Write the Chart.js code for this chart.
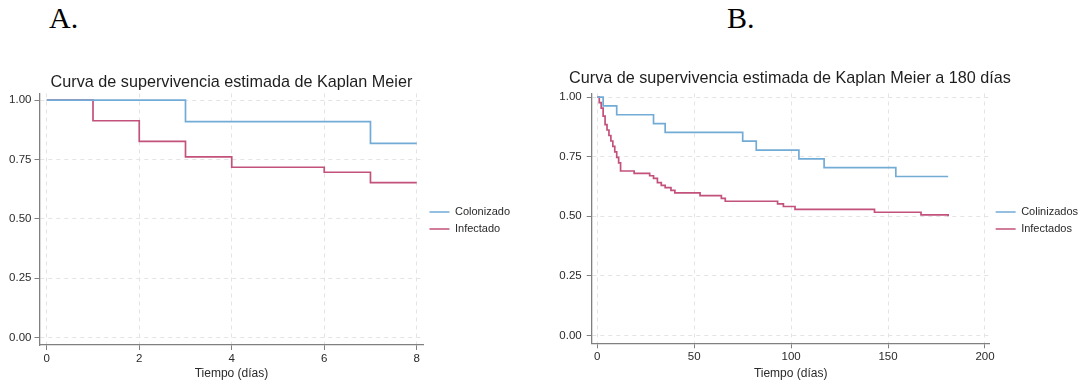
<!DOCTYPE html>
<html>
<head>
<meta charset="utf-8">
<script src="https://cdn.jsdelivr.net/npm/chart.js"></script>
<style>
    body { margin: 0; background: #fff; width: 1088px; height: 381px; position: relative; overflow: hidden; }
    .panel-label { position: absolute; top: 1px; font-family: "Liberation Serif", "Times New Roman", serif; font-size: 30px; color: #000; }
    .box { position: absolute; top: 60px; height: 321px; }
</style>
</head>
<body>
<div class="panel-label" style="left:49px">A.</div>
<div class="panel-label" style="left:727px">B.</div>
<div class="box" style="left:0;width:540px"><canvas id="chartA"></canvas></div>
<!-- B canvas starts further left so that its full-width title centres on the plot area -->
<div class="box" style="left:492px;width:596px"><canvas id="chartB"></canvas></div>

<script>
// --- A: Kaplan Meier, 8 days ---
const daysColA = [0, 3, 7, 8];
const survColA = [1, 0.909, 0.818, 0.818];
const daysInfA = [0, 1, 2, 3, 4, 6, 7, 8];
const survInfA = [1, 0.913, 0.826, 0.761, 0.717, 0.696, 0.652, 0.652];
const xTicksA = [0, 2, 4, 6, 8];

// --- B: Kaplan Meier, 180 days ---
const daysColB = [0, 3, 10, 29, 35, 75, 82, 104, 117, 154, 181];
const survColB = [1, 0.963, 0.926, 0.889, 0.852, 0.815, 0.778, 0.741, 0.704, 0.667, 0.667];
const daysInfB = [0, 1, 2, 3, 4, 5, 6, 7, 8, 9, 10, 11, 12, 19, 27, 29, 31, 33, 35, 38, 40, 53, 64, 66, 93, 96, 102, 143, 167, 181];
const survInfB = [1, 0.977, 0.954, 0.920, 0.885, 0.862, 0.839, 0.816, 0.793, 0.770, 0.747, 0.724, 0.690, 0.680, 0.670, 0.659, 0.641, 0.630, 0.620, 0.609, 0.598, 0.587, 0.575, 0.563, 0.552, 0.541, 0.529, 0.517, 0.506, 0.500];
const xTicksB = [0, 50, 100, 150, 200];

const yTicks = [0, 0.25, 0.5, 0.75, 1];

const BLUE = '#72abd6';
const RED = '#c2517b';
const AXIS = '#808080';
const GRID = '#e4e4e4';
const FONT = '"Liberation Sans", Arial, sans-serif';

Chart.defaults.font.family = FONT;
Chart.defaults.color = '#2a2a2a';

const toPoints = (xs, ys) => xs.map((x, i) => ({x: x, y: ys[i]}));

function kmChart(id, cfg) {
    const ctx = document.getElementById(id);
    return new Chart(ctx, {
        type: 'line',
        data: {
            datasets: [
                {label: cfg.labels[0], data: toPoints(cfg.col[0], cfg.col[1]), borderColor: BLUE, backgroundColor: BLUE},
                {label: cfg.labels[1], data: toPoints(cfg.inf[0], cfg.inf[1]), borderColor: RED, backgroundColor: RED}
            ].map(d => Object.assign(d, {stepped: true, borderWidth: 1.7, pointRadius: 0, fill: false}))
        },
        options: {
            animation: false,
            responsive: true,
            maintainAspectRatio: false,
            devicePixelRatio: 1,
            layout: {padding: {left: 0, right: cfg.padRight, top: 0, bottom: 0}},
            plugins: {
                tooltip: {enabled: false},
                title: {
                    display: true,
                    fullSize: cfg.titleFull,
                    text: cfg.title,
                    color: '#1e1e1e',
                    font: {size: cfg.titleSize, weight: 'normal'},
                    padding: {top: cfg.titleTop, bottom: cfg.titleBottom}
                },
                legend: {
                    position: 'right',
                    labels: {
                        boxWidth: 20,
                        boxHeight: 0,
                        padding: 6,
                        font: {size: 11},
                        color: '#2a2a2a'
                    }
                }
            },
            scales: {
                x: {
                    type: 'linear',
                    min: cfg.xMin,
                    max: cfg.xMax,
                    afterBuildTicks: s => { s.ticks = cfg.xTicks.map(v => ({value: v})); },
                    afterFit: s => { s.height = cfg.xHeight; },
                    ticks: {font: {size: 11.5}, padding: 2, maxRotation: 0},
                    grid: {color: GRID, tickColor: AXIS, tickLength: 5, tickWidth: 1},
                    border: {color: AXIS, width: 1.3, dash: [4, 4]},
                    title: {display: true, text: 'Tiempo (días)', font: {size: 12}, padding: {top: 0, bottom: 0}}
                },
                y: {
                    type: 'linear',
                    min: cfg.yMin,
                    max: cfg.yMax,
                    afterBuildTicks: s => { s.ticks = yTicks.map(v => ({value: v})); },
                    afterFit: s => { s.width = cfg.yWidth; },
                    ticks: {font: {size: 11.5}, padding: cfg.yPad, callback: v => v.toFixed(2)},
                    grid: {color: GRID, tickColor: AXIS, tickLength: 5, tickWidth: 1},
                    border: {color: AXIS, width: 1.3, dash: [4, 4]}
                }
            }
        }
    });
}

kmChart('chartA', {
    title: 'Curva de supervivencia estimada de Kaplan Meier',
    labels: ['Colonizado', 'Infectado'],
    col: [daysColA, survColA],
    inf: [daysInfA, survInfA],
    xTicks: xTicksA,
    xMin: -0.157, xMax: 8.146,
    yMin: -0.032, yMax: 1.028,
    yWidth: 39.5, xHeight: 36, yPad: 3,
    titleFull: false, titleSize: 16.2, titleTop: 13, titleBottom: 1,
    padRight: 20
});

kmChart('chartB', {
    title: 'Curva de supervivencia estimada de Kaplan Meier a 180 días',
    labels: ['Colinizados', 'Infectados'],
    col: [daysColB, survColB],
    inf: [daysInfB, survInfB],
    xTicks: xTicksB,
    xMin: -2.9, xMax: 202.4,
    yMin: -0.033, yMax: 1.0155,
    yWidth: 99.7, xHeight: 37.7, yPad: 5,
    titleFull: true, titleSize: 16.2, titleTop: 9, titleBottom: 5,
    padRight: 0
});
</script>
</body>
</html>
